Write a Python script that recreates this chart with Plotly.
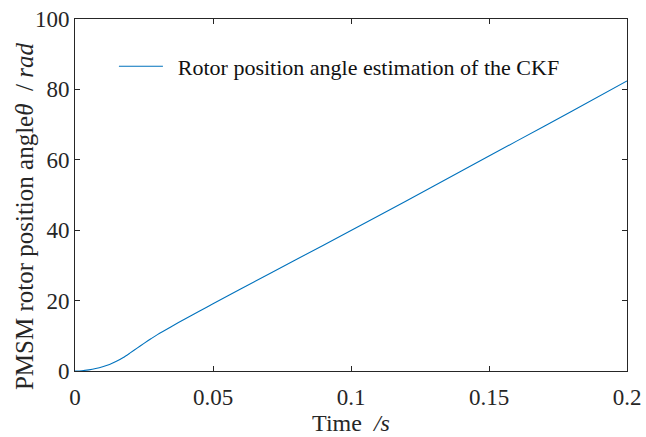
import plotly.graph_objects as go

time_s = [0, 0.0025, 0.005, 0.0075, 0.01, 0.0125, 0.015, 0.0175, 0.02, 0.0225,
          0.025, 0.0275, 0.03, 0.035, 0.04, 0.045, 0.05, 0.06, 0.08, 0.1,
          0.12, 0.14, 0.16, 0.18, 0.2]
theta_rad = [0, 0.08, 0.33, 0.7, 1.2, 1.85, 2.75, 3.85, 5.15, 6.5,
             7.85, 9.15, 10.4, 12.65, 14.85, 17.0, 19.1, 23.3, 31.6, 39.9,
             48.3, 56.8, 65.3, 73.8, 82.4]

x_ticks = [0, 0.05, 0.1, 0.15, 0.2]
x_tick_text = ["0", "0.05", "0.1", "0.15", "0.2"]
y_ticks = [0, 20, 40, 60, 80, 100]

x_title = "Time  <i>/s</i>"
y_title = "PMSM rotor position angle<i>θ</i>\u00a0\u00a0/\u00a0<i>rad</i>"

FONT = "Liberation Serif"

fig = go.Figure()
fig.add_trace(go.Scatter(
    x=time_s, y=theta_rad, mode="lines",
    line=dict(color="#0072BD", width=1.1, shape="spline", smoothing=0.8),
    name="\u00a0\u2009Rotor position angle estimation of the CKF",
))

axis_common = dict(
    showline=True, linecolor="#262626", linewidth=1, mirror="ticks",
    ticks="inside", ticklen=5, tickcolor="#262626", showgrid=False, zeroline=False,
    tickfont=dict(family=FONT, size=23, color="#262626"),
    automargin=False,
)

fig.update_layout(
    width=646, height=437,
    margin=dict(l=75, r=19, t=19, b=66),
    paper_bgcolor="white", plot_bgcolor="white",
    font=dict(family=FONT, color="#262626", size=22),
    xaxis=dict(range=[0, 0.2], tickvals=x_ticks, ticktext=x_tick_text,
               ticklabelstandoff=5,
               title=dict(text=x_title, font=dict(family=FONT, size=24), standoff=4),
               **axis_common),
    yaxis=dict(range=[0, 100], tickvals=y_ticks, **axis_common),
    showlegend=True,
    legend=dict(x=0.0705, y=0.865, xanchor="left", yanchor="middle",
                bgcolor="rgba(0,0,0,0)", borderwidth=0, itemwidth=44,
                font=dict(family=FONT, size=22, color="#111111")),
)

fig.add_annotation(
    text=y_title, textangle=-90, showarrow=False,
    xref="paper", yref="paper", x=-0.0924, y=0.44,
    xanchor="center", yanchor="middle",
    font=dict(family=FONT, size=25, color="#262626"),
)

fig.write_html("out.html")
